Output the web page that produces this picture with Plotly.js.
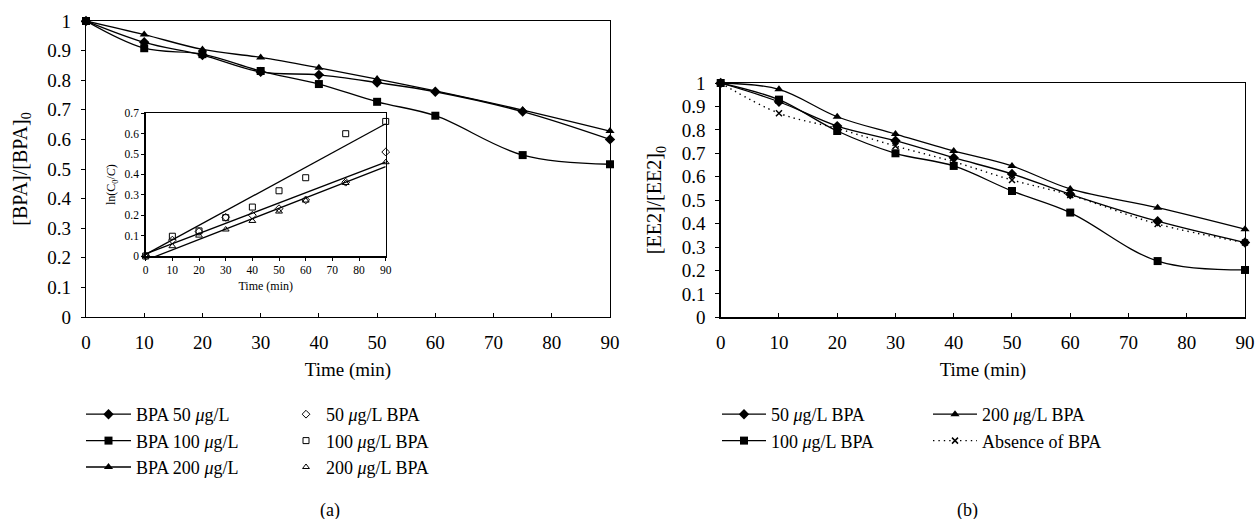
<!DOCTYPE html>
<html>
<head>
<meta charset="utf-8">
<script src="https://cdn.plot.ly/plotly-3.0.1.min.js"></script>
<style>html,body{margin:0;padding:0;background:#fff;}#chart{width:1258px;height:519px;}</style>
</head>
<body>
<div id="chart"></div>
<script>
// ---- Panel (a): BPA degradation ----
const timeA = [0, 10, 20, 30, 40, 50, 60, 75, 90];
const bpa50 = [1, 0.928, 0.885, 0.828, 0.818, 0.792, 0.761, 0.694, 0.600];
const bpa100 = [1, 0.908, 0.888, 0.831, 0.787, 0.727, 0.680, 0.547, 0.516];
const bpa200 = [1, 0.954, 0.904, 0.877, 0.842, 0.804, 0.764, 0.699, 0.628];

// ---- Inset: ln(C0/C) kinetics ----
const timeK = [0, 10, 20, 30, 40, 50, 60, 75, 90];
const ln50 = [0, 0.078, 0.12, 0.19, 0.20, 0.232, 0.275, 0.362, 0.51];
const ln100 = [0, 0.097, 0.123, 0.188, 0.24, 0.32, 0.384, 0.60, 0.66];
const ln200 = [0, 0.048, 0.10, 0.13, 0.172, 0.218, 0.272, 0.358, 0.46];
const fitSlope = [0.0050, 0.00712, 0.0051];
const fitIntercept = [0.010, 0.008, -0.021];
const fitRange = [0, 90];

// ---- Panel (b): EE2 degradation ----
const timeB = [0, 10, 20, 30, 40, 50, 60, 75, 90];
const ee50 = [1, 0.920, 0.816, 0.754, 0.681, 0.612, 0.525, 0.410, 0.319];
const ee100 = [1, 0.929, 0.795, 0.700, 0.646, 0.539, 0.447, 0.240, 0.202];
const ee200 = [1, 0.973, 0.856, 0.782, 0.710, 0.646, 0.548, 0.468, 0.376];
const eeAbs = [1, 0.871, 0.806, 0.731, 0.664, 0.586, 0.522, 0.398, 0.319];

const namesA = ['BPA 50 <i>μ</i>g/L', 'BPA 100 <i>μ</i>g/L', 'BPA 200 <i>μ</i>g/L'];
const namesK = ['50 <i>μ</i>g/L BPA', '100 <i>μ</i>g/L BPA', '200 <i>μ</i>g/L BPA'];
const namesB = ['50 <i>μ</i>g/L BPA', '100 <i>μ</i>g/L BPA', '200 <i>μ</i>g/L BPA', 'Absence of BPA'];

const FONT = 'Liberation Serif, Times New Roman, serif';
const W = 1258, H = 519;
const px = v => v / W;
const py = v => 1 - v / H;

const mainLine = {color: '#000', width: 1.3, shape: 'spline', smoothing: 1};
const symA = ['diamond', 'square', 'triangle-up'];
const symK = ['diamond-open', 'square-open', 'triangle-up-open'];

const traces = [];
[bpa50, bpa100, bpa200].forEach((ys, i) => {
  traces.push({
    x: timeA, y: ys, type: 'scatter', mode: 'lines+markers', name: namesA[i],
    xaxis: 'x', yaxis: 'y', cliponaxis: false, legend: 'legend',
    line: mainLine, marker: {symbol: symA[i], size: 8, color: '#000'}
  });
});
[ln50, ln100, ln200].forEach((ys, i) => {
  traces.push({
    x: timeK, y: ys, type: 'scatter', mode: 'markers', name: namesK[i],
    xaxis: 'x2', yaxis: 'y2', cliponaxis: false, legend: 'legend2',
    marker: {symbol: symK[i], size: 6, color: '#000', line: {width: 1, color: '#000'}}
  });
});
fitSlope.forEach((s, i) => {
  traces.push({
    x: fitRange, y: fitRange.map(t => fitIntercept[i] + s * t), type: 'scatter', mode: 'lines',
    xaxis: 'x2', yaxis: 'y2', showlegend: false, hoverinfo: 'skip',
    line: {color: '#000', width: 1.3}
  });
});
const symB = ['diamond', 'square', 'triangle-up'];
const legB = ['legend3', 'legend3', 'legend4'];
[ee50, ee100, ee200].forEach((ys, i) => {
  traces.push({
    x: timeB, y: ys, type: 'scatter', mode: 'lines+markers', name: namesB[i],
    xaxis: 'x3', yaxis: 'y3', cliponaxis: false, legend: legB[i],
    line: mainLine, marker: {symbol: symB[i], size: 8, color: '#000'}
  });
});
traces.push({
  x: timeB, y: eeAbs, type: 'scatter', mode: 'lines+markers', name: namesB[3],
  xaxis: 'x3', yaxis: 'y3', cliponaxis: false, legend: 'legend4',
  line: {color: '#000', width: 1.4, dash: '1.4px,4px', shape: 'spline', smoothing: 1},
  marker: {symbol: 'x-thin-open', size: 6, color: '#000', line: {width: 1.5, color: '#000'}}
});

const axisBase = {
  showline: true, mirror: true, linecolor: '#000', linewidth: 1.3,
  showgrid: false, zeroline: false, ticklen: 4, tickcolor: '#000',
  tickfont: {family: FONT, size: 19, color: '#000'}
};
const xTitleFont = {family: FONT, size: 19, color: '#000'};
const yTitleFont = {family: FONT, size: 20, color: '#000'};

const legBase = {
  orientation: 'v', bgcolor: 'rgba(0,0,0,0)', borderwidth: 0,
  font: {family: FONT, size: 18, color: '#000'}, tracegroupgap: 0,
  xanchor: 'left', yanchor: 'top', itemclick: false
};

const layout = {
  width: W, height: H,
  margin: {l: 0, r: 0, t: 0, b: 0},
  paper_bgcolor: '#fff', plot_bgcolor: 'rgba(0,0,0,0)',
  font: {family: FONT, color: '#000'},
  showlegend: true,
  xaxis: Object.assign({}, axisBase, {
    domain: [px(86), px(610)], range: [0, 90], dtick: 10, ticks: 'inside', anchor: 'y',
    ticklabelstandoff: 8,
    title: {text: 'Time (min)', font: xTitleFont, standoff: 10}
  }),
  yaxis: Object.assign({}, axisBase, {
    domain: [py(317), py(21)], range: [0, 1], dtick: 0.1, ticks: 'outside', anchor: 'x',
    ticklabelstandoff: 6,
    title: {text: '[BPA]/[BPA]<sub>0</sub>', font: yTitleFont, standoff: 14}
  }),
  xaxis2: Object.assign({}, axisBase, {
    domain: [px(145.7), px(385.7)], range: [0, 90], dtick: 10, ticks: 'outside', anchor: 'y2',
    linewidth: 1.5, ticklen: 3,
    tickfont: {family: FONT, size: 11.5, color: '#000'},
    title: {text: 'Time (min)', font: {family: FONT, size: 12, color: '#000'}, standoff: 6}
  }),
  yaxis2: Object.assign({}, axisBase, {
    domain: [py(256), py(113.3)], range: [0, 0.7], dtick: 0.1, ticks: 'outside', anchor: 'x2',
    linewidth: 1.5, ticklen: 3,
    tickfont: {family: FONT, size: 11.5, color: '#000'},
    title: {text: 'ln(C<sub>0</sub>/<i>C</i>)', font: {family: FONT, size: 12, color: '#000'}, standoff: 6}
  }),
  xaxis3: Object.assign({}, axisBase, {
    domain: [px(720.7), px(1245)], range: [0, 90], dtick: 10, ticks: 'inside', anchor: 'y3',
    ticklabelstandoff: 8,
    title: {text: 'Time (min)', font: xTitleFont, standoff: 10}
  }),
  yaxis3: Object.assign({}, axisBase, {
    domain: [py(317.3), py(83)], range: [0, 1], dtick: 0.1, ticks: 'outside', anchor: 'x3',
    ticklabelstandoff: 6,
    title: {text: '[EE2]/[EE2]<sub>0</sub>', font: yTitleFont, standoff: 14}
  }),
  legend: Object.assign({}, legBase, {x: px(81), y: py(396), itemwidth: 45}),
  legend2: Object.assign({}, legBase, {x: px(286), y: py(396), itemwidth: 30}),
  legend3: Object.assign({}, legBase, {x: px(717), y: py(396), itemwidth: 44}),
  legend4: Object.assign({}, legBase, {x: px(928), y: py(396), itemwidth: 44}),
  annotations: [
    {text: '(a)', x: px(330), y: py(510), xref: 'paper', yref: 'paper', showarrow: false,
     xanchor: 'center', yanchor: 'middle',
     font: {family: FONT, size: 18, color: '#000'}},
    {text: '(b)', x: px(967), y: py(510), xref: 'paper', yref: 'paper', showarrow: false,
     xanchor: 'center', yanchor: 'middle',
     font: {family: FONT, size: 18, color: '#000'}}
  ]
};

Plotly.newPlot('chart', traces, layout, {staticPlot: true, displayModeBar: false});
</script>
</body>
</html>
